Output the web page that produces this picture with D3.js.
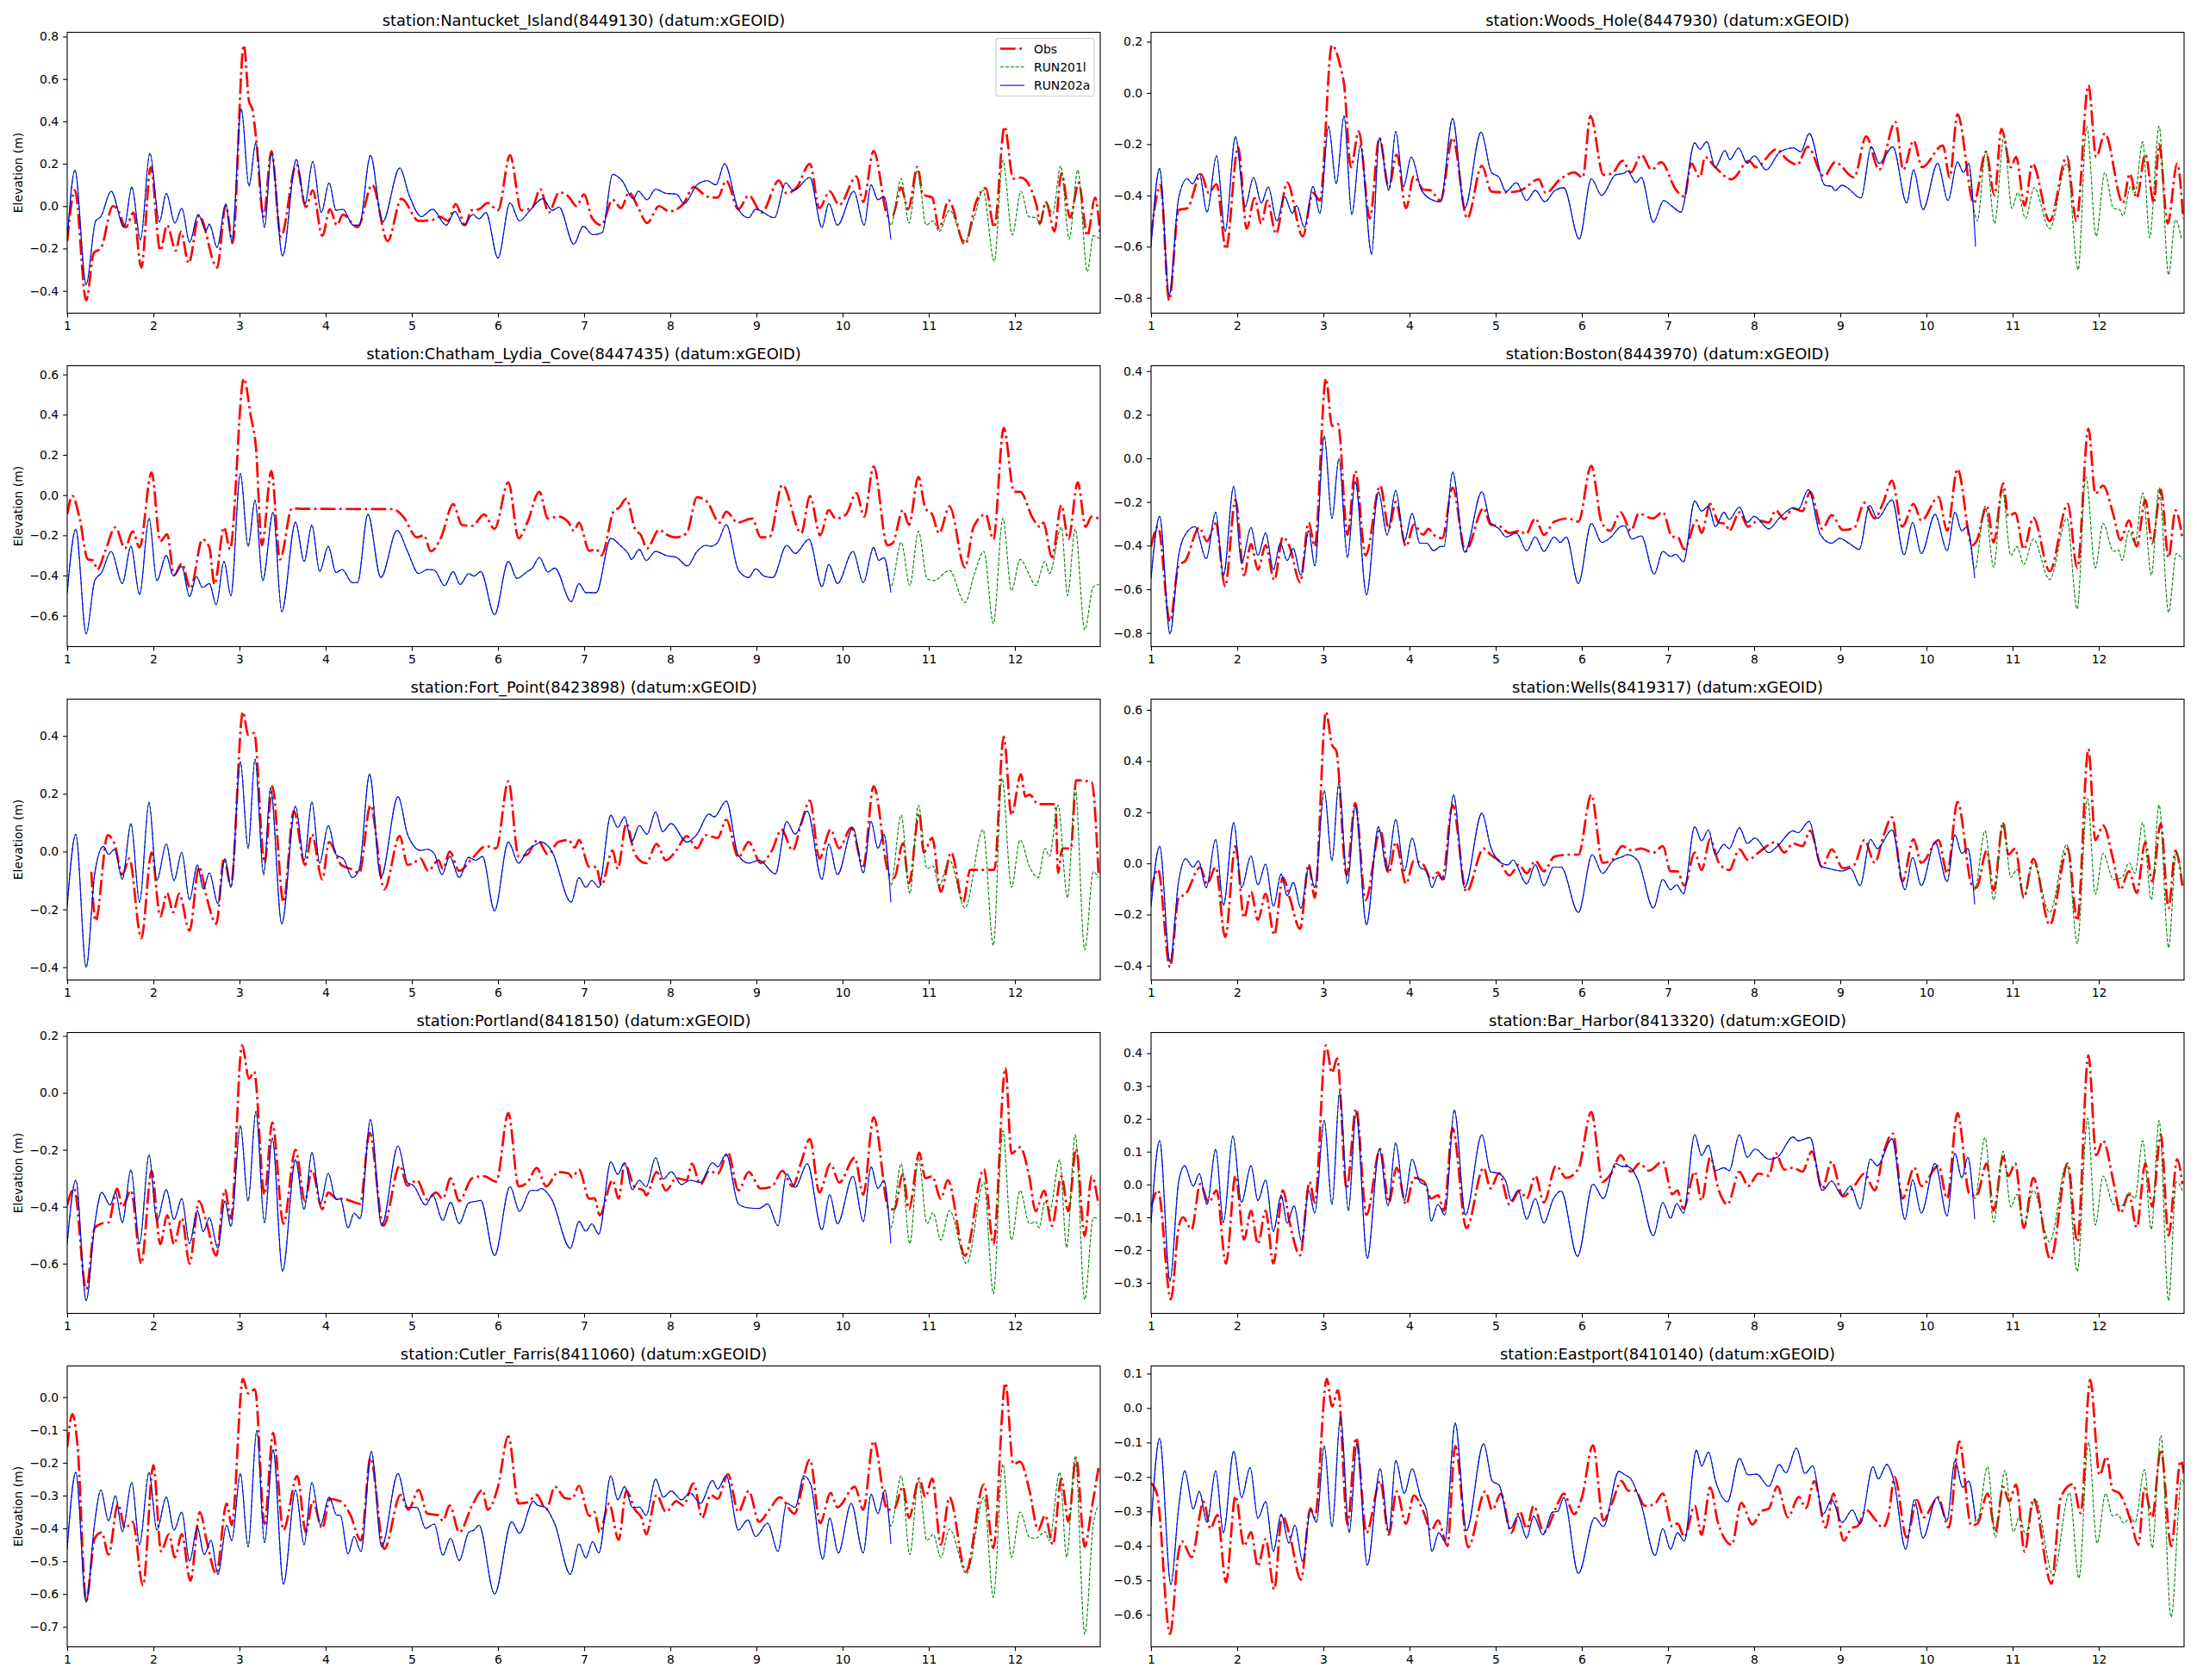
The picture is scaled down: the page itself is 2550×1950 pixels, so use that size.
<!DOCTYPE html>
<html>
<head>
<meta charset="utf-8">
<script src="https://cdn.jsdelivr.net/npm/d3@7"></script>
<style>
  body { margin: 0; background: #fff; }
  text { font-family: "DejaVu Sans", sans-serif; }
</style>
</head>
<body>
<svg id="chart" width="2550" height="1950"></svg>
<script>
// ---- labels ----
var stations = [
  "station:Nantucket_Island(8449130) (datum:xGEOID)",
  "station:Woods_Hole(8447930) (datum:xGEOID)",
  "station:Chatham_Lydia_Cove(8447435) (datum:xGEOID)",
  "station:Boston(8443970) (datum:xGEOID)",
  "station:Fort_Point(8423898) (datum:xGEOID)",
  "station:Wells(8419317) (datum:xGEOID)",
  "station:Portland(8418150) (datum:xGEOID)",
  "station:Bar_Harbor(8413320) (datum:xGEOID)",
  "station:Cutler_Farris(8411060) (datum:xGEOID)",
  "station:Eastport(8410140) (datum:xGEOID)"
];
var seriesNames = ["Obs", "RUN201l", "RUN202a"];
var xTicks = [1, 2, 3, 4, 5, 6, 7, 8, 9, 10, 11, 12];
var yTickSteps = [0.2, 0.2, 0.2, 0.2, 0.2, 0.2, 0.2, 0.1, 0.1, 0.1];

// ---- data: [day, elevation m] at turning points ----
var obs_nantucket = [[1.00,-0.165],[1.09,0.075],[1.22,-0.445],[1.31,-0.22],[1.39,-0.20],[1.53,0.0],[1.58,-0.01],[1.68,-0.10],[1.77,-0.03],[1.86,-0.29],[1.97,0.185],[2.08,-0.21],[2.16,-0.09],[2.26,-0.21],[2.32,-0.12],[2.41,-0.27],[2.53,-0.045],[2.74,-0.29],[2.84,0.005],[2.92,-0.175],[3.05,0.76],[3.11,0.495],[3.15,0.455],[3.19,0.33],[3.28,-0.05],[3.37,0.26],[3.48,-0.145],[3.66,0.195],[3.77,-0.005],[3.85,0.075],[3.96,-0.14],[4.05,-0.015],[4.13,-0.09],[4.20,-0.04],[4.37,-0.10],[4.54,0.10],[4.72,-0.165],[4.88,0.035],[5.08,-0.07],[5.24,-0.065],[5.33,-0.05],[5.42,-0.07],[5.51,0.01],[5.62,-0.09],[5.69,-0.02],[5.78,-0.015],[5.88,0.015],[6.00,-0.02],[6.14,0.24],[6.27,-0.02],[6.40,-0.005],[6.49,0.08],[6.59,-0.03],[6.71,0.065],[6.82,0.045],[6.91,0.0],[7.00,0.055],[7.09,-0.055],[7.20,-0.09],[7.33,0.03],[7.43,-0.01],[7.52,0.065],[7.63,-0.01],[7.73,-0.08],[7.87,0.0],[7.99,-0.025],[8.15,0.01],[8.27,0.09],[8.43,0.045],[8.55,0.04],[8.65,0.12],[8.79,-0.015],[8.91,0.05],[9.06,-0.03],[9.26,0.12],[9.35,0.06],[9.47,0.09],[9.62,0.20],[9.73,-0.01],[9.85,0.07],[9.96,0.005],[10.16,0.14],[10.24,0.02],[10.36,0.26],[10.53,-0.047],[10.58,-0.045],[10.68,0.088],[10.76,-0.015],[10.87,0.185],[10.93,0.055],[11.04,0.04],[11.12,-0.105],[11.23,0.027],[11.42,-0.18],[11.55,0.02],[11.66,0.085],[11.76,-0.10],[11.88,0.375],[11.98,0.13],[12.07,0.135],[12.25,0.005],[12.29,-0.08],[12.36,0.02],[12.46,-0.12],[12.54,0.155],[12.64,-0.055],[12.74,0.11],[12.84,-0.14],[12.93,0.04],[12.99,-0.14]];
var run202a_nantucket = [[1.00,-0.16],[1.09,0.17],[1.22,-0.37],[1.33,-0.07],[1.39,-0.05],[1.51,0.07],[1.66,-0.10],[1.75,0.09],[1.85,-0.16],[1.96,0.25],[2.07,-0.075],[2.15,0.06],[2.25,-0.08],[2.33,-0.01],[2.42,-0.17],[2.52,-0.04],[2.61,-0.115],[2.65,-0.085],[2.74,-0.195],[2.84,0.01],[2.91,-0.165],[3.02,0.46],[3.11,0.095],[3.19,0.30],[3.29,-0.10],[3.37,0.25],[3.50,-0.235],[3.66,0.22],[3.76,0.01],[3.85,0.21],[3.95,-0.03],[4.04,0.11],[4.12,-0.02],[4.20,-0.015],[4.32,-0.09],[4.39,-0.09],[4.52,0.24],[4.66,-0.075],[4.86,0.18],[4.97,0.05],[5.11,-0.05],[5.24,-0.015],[5.40,-0.09],[5.50,-0.025],[5.60,-0.09],[5.71,-0.04],[5.78,-0.06],[5.86,-0.03],[6.00,-0.245],[6.14,0.015],[6.25,-0.07],[6.36,-0.025],[6.52,0.035],[6.63,-0.02],[6.71,-0.005],[6.88,-0.18],[6.99,-0.095],[7.10,-0.135],[7.21,-0.125],[7.33,0.15],[7.44,0.12],[7.57,0.035],[7.63,0.07],[7.73,0.03],[7.83,0.08],[7.95,0.06],[8.07,0.057],[8.16,0.012],[8.31,0.10],[8.43,0.12],[8.53,0.10],[8.63,0.20],[8.79,-0.015],[8.91,-0.055],[8.99,-0.015],[9.21,-0.055],[9.34,0.11],[9.43,0.073],[9.62,0.135],[9.76,-0.10],[9.84,0.012],[9.94,-0.09],[10.13,0.07],[10.25,-0.09],[10.33,0.10],[10.41,0.03],[10.48,0.045],[10.56,-0.157]];
var run201l_tail_nantucket = [[10.56,-0.09],[10.68,0.13],[10.77,-0.08],[10.87,0.17],[10.97,-0.09],[11.05,-0.07],[11.12,-0.12],[11.24,-0.02],[11.42,-0.165],[11.53,-0.05],[11.63,0.075],[11.76,-0.26],[11.86,0.215],[11.97,-0.135],[12.07,0.07],[12.16,-0.05],[12.25,-0.055],[12.29,-0.09],[12.36,0.02],[12.44,-0.035],[12.53,0.19],[12.63,-0.155],[12.73,0.17],[12.84,-0.31],[12.91,-0.14],[12.99,-0.155]];

var obs_woodshole = [[1.00,-0.557],[1.11,-0.36],[1.21,-0.81],[1.32,-0.457],[1.42,-0.45],[1.58,-0.317],[1.67,-0.39],[1.76,-0.356],[1.87,-0.61],[2.01,-0.21],[2.11,-0.53],[2.20,-0.41],[2.28,-0.51],[2.35,-0.42],[2.45,-0.55],[2.58,-0.35],[2.76,-0.56],[2.88,-0.39],[2.96,-0.42],[3.10,0.187],[3.20,0.10],[3.24,0.035],[3.32,-0.29],[3.41,-0.15],[3.54,-0.49],[3.65,-0.175],[3.76,-0.37],[3.85,-0.24],[3.96,-0.45],[4.05,-0.325],[4.16,-0.377],[4.24,-0.38],[4.36,-0.42],[4.50,-0.175],[4.67,-0.49],[4.84,-0.284],[4.95,-0.385],[5.12,-0.388],[5.28,-0.382],[5.50,-0.337],[5.58,-0.39],[5.75,-0.337],[5.91,-0.31],[6.01,-0.33],[6.10,-0.09],[6.25,-0.32],[6.35,-0.315],[6.47,-0.265],[6.57,-0.31],[6.69,-0.242],[6.81,-0.30],[6.92,-0.27],[7.09,-0.377],[7.19,-0.405],[7.27,-0.275],[7.37,-0.33],[7.43,-0.25],[7.54,-0.287],[7.74,-0.337],[7.94,-0.265],[8.02,-0.29],[8.26,-0.22],[8.38,-0.26],[8.50,-0.28],[8.62,-0.21],[8.81,-0.325],[8.94,-0.27],[9.16,-0.33],[9.30,-0.17],[9.45,-0.30],[9.64,-0.113],[9.73,-0.30],[9.85,-0.186],[9.95,-0.29],[10.19,-0.205],[10.27,-0.33],[10.36,-0.083],[10.55,-0.43],[10.69,-0.23],[10.79,-0.40],[10.87,-0.14],[10.98,-0.29],[11.04,-0.25],[11.14,-0.44],[11.23,-0.276],[11.43,-0.50],[11.63,-0.248],[11.74,-0.50],[11.88,0.03],[11.97,-0.25],[12.07,-0.158],[12.28,-0.43],[12.36,-0.315],[12.44,-0.41],[12.54,-0.24],[12.64,-0.43],[12.70,-0.20],[12.80,-0.51],[12.91,-0.276],[12.98,-0.49]];
var run202a_woodshole = [[1.00,-0.60],[1.10,-0.295],[1.21,-0.79],[1.32,-0.41],[1.42,-0.335],[1.48,-0.355],[1.56,-0.315],[1.65,-0.465],[1.76,-0.245],[1.86,-0.54],[1.98,-0.17],[2.09,-0.445],[2.19,-0.33],[2.28,-0.43],[2.36,-0.367],[2.46,-0.50],[2.55,-0.405],[2.64,-0.47],[2.69,-0.44],[2.78,-0.525],[2.88,-0.365],[2.96,-0.47],[3.06,-0.13],[3.15,-0.355],[3.24,-0.09],[3.33,-0.475],[3.43,-0.205],[3.56,-0.63],[3.65,-0.175],[3.76,-0.38],[3.84,-0.15],[3.93,-0.365],[4.02,-0.25],[4.14,-0.38],[4.28,-0.42],[4.36,-0.425],[4.50,-0.10],[4.64,-0.45],[4.83,-0.153],[4.95,-0.31],[5.04,-0.33],[5.12,-0.385],[5.24,-0.35],[5.36,-0.42],[5.46,-0.38],[5.57,-0.425],[5.69,-0.38],[5.79,-0.37],[5.97,-0.57],[6.11,-0.335],[6.23,-0.40],[6.39,-0.32],[6.49,-0.313],[6.53,-0.305],[6.63,-0.35],[6.69,-0.33],[6.83,-0.505],[6.95,-0.42],[7.04,-0.44],[7.15,-0.465],[7.31,-0.195],[7.37,-0.22],[7.45,-0.19],[7.55,-0.29],[7.66,-0.225],[7.72,-0.26],[7.82,-0.215],[7.92,-0.275],[8.00,-0.245],[8.14,-0.30],[8.30,-0.23],[8.46,-0.215],[8.54,-0.23],[8.64,-0.158],[8.82,-0.36],[8.90,-0.365],[8.94,-0.382],[9.02,-0.36],[9.08,-0.37],[9.24,-0.41],[9.36,-0.21],[9.45,-0.275],[9.61,-0.21],[9.77,-0.43],[9.85,-0.30],[9.96,-0.455],[10.13,-0.275],[10.25,-0.42],[10.36,-0.27],[10.43,-0.31],[10.49,-0.275],[10.57,-0.60]];
var run201l_tail_woodshole = [[10.53,-0.40],[10.59,-0.50],[10.69,-0.225],[10.79,-0.51],[10.90,-0.17],[10.99,-0.45],[11.06,-0.39],[11.15,-0.49],[11.25,-0.37],[11.43,-0.53],[11.63,-0.275],[11.76,-0.69],[11.86,-0.13],[11.97,-0.56],[12.07,-0.31],[12.17,-0.45],[12.24,-0.455],[12.28,-0.48],[12.37,-0.365],[12.42,-0.39],[12.51,-0.19],[12.59,-0.565],[12.70,-0.13],[12.81,-0.71],[12.89,-0.495],[12.96,-0.57]];

var obs_chatham = [[1.00,-0.096],[1.06,-0.004],[1.14,-0.107],[1.24,-0.32],[1.30,-0.325],[1.35,-0.37],[1.44,-0.28],[1.56,-0.16],[1.67,-0.265],[1.76,-0.18],[1.84,-0.26],[1.98,0.113],[2.08,-0.23],[2.16,-0.195],[2.24,-0.40],[2.33,-0.34],[2.43,-0.465],[2.57,-0.22],[2.65,-0.26],[2.71,-0.445],[2.82,-0.16],[2.89,-0.27],[3.05,0.58],[3.13,0.395],[3.19,0.24],[3.26,-0.25],[3.37,0.12],[3.47,-0.32],[3.61,-0.065],[3.70,-0.068],[4.78,-0.07],[4.90,-0.107],[5.06,-0.21],[5.14,-0.20],[5.22,-0.28],[5.34,-0.21],[5.48,-0.045],[5.58,-0.148],[5.70,-0.153],[5.84,-0.096],[5.96,-0.168],[6.12,0.063],[6.24,-0.215],[6.34,-0.137],[6.48,0.016],[6.58,-0.117],[6.70,-0.107],[6.82,-0.137],[6.88,-0.178],[6.94,-0.137],[7.06,-0.277],[7.14,-0.27],[7.20,-0.30],[7.35,-0.075],[7.40,-0.065],[7.49,-0.018],[7.59,-0.168],[7.66,-0.20],[7.73,-0.265],[7.87,-0.172],[7.95,-0.195],[8.07,-0.21],[8.19,-0.19],[8.31,-0.01],[8.43,-0.035],[8.57,-0.137],[8.65,-0.082],[8.78,-0.137],[8.95,-0.117],[9.05,-0.21],[9.15,-0.21],[9.30,0.051],[9.52,-0.19],[9.62,-0.004],[9.74,-0.20],[9.84,-0.075],[9.92,-0.117],[10.04,-0.096],[10.16,0.01],[10.25,-0.107],[10.36,0.143],[10.52,-0.25],[10.58,-0.24],[10.70,-0.075],[10.77,-0.148],[10.88,0.09],[10.96,-0.065],[11.04,-0.096],[11.12,-0.19],[11.24,-0.055],[11.42,-0.36],[11.52,-0.158],[11.66,-0.096],[11.75,-0.22],[11.87,0.334],[11.99,0.016],[12.06,0.016],[12.21,-0.117],[12.29,-0.158],[12.33,-0.137],[12.43,-0.31],[12.54,-0.05],[12.62,-0.22],[12.73,0.063],[12.82,-0.158],[12.89,-0.107],[12.97,-0.117]];
var run202a_chatham = [[1.00,-0.485],[1.10,-0.17],[1.22,-0.69],[1.32,-0.425],[1.40,-0.385],[1.51,-0.28],[1.64,-0.44],[1.74,-0.255],[1.84,-0.495],[1.95,-0.115],[2.04,-0.425],[2.15,-0.30],[2.23,-0.40],[2.33,-0.355],[2.42,-0.505],[2.50,-0.405],[2.57,-0.46],[2.65,-0.44],[2.73,-0.545],[2.82,-0.33],[2.90,-0.50],[3.01,0.108],[3.10,-0.255],[3.18,-0.025],[3.27,-0.425],[3.39,-0.085],[3.49,-0.58],[3.65,-0.135],[3.75,-0.33],[3.84,-0.15],[3.93,-0.38],[4.03,-0.255],[4.12,-0.385],[4.19,-0.37],[4.31,-0.435],[4.37,-0.435],[4.49,-0.095],[4.64,-0.41],[4.83,-0.175],[4.95,-0.28],[5.08,-0.39],[5.18,-0.37],[5.26,-0.373],[5.38,-0.45],[5.48,-0.38],[5.56,-0.445],[5.66,-0.39],[5.72,-0.403],[5.80,-0.38],[5.96,-0.595],[6.12,-0.33],[6.22,-0.414],[6.34,-0.38],[6.40,-0.363],[6.48,-0.31],[6.58,-0.383],[6.66,-0.363],[6.85,-0.53],[6.94,-0.44],[7.02,-0.485],[7.14,-0.485],[7.31,-0.215],[7.43,-0.255],[7.51,-0.29],[7.55,-0.32],[7.64,-0.27],[7.72,-0.325],[7.83,-0.28],[7.95,-0.30],[8.07,-0.31],[8.20,-0.352],[8.31,-0.28],[8.41,-0.25],[8.47,-0.255],[8.55,-0.235],[8.65,-0.147],[8.79,-0.373],[8.91,-0.41],[8.99,-0.367],[9.09,-0.403],[9.19,-0.41],[9.35,-0.25],[9.45,-0.29],[9.61,-0.22],[9.76,-0.455],[9.84,-0.345],[9.94,-0.44],[10.12,-0.28],[10.24,-0.435],[10.36,-0.26],[10.42,-0.325],[10.48,-0.31],[10.56,-0.485]];
var run201l_tail_chatham = [[10.56,-0.455],[10.68,-0.235],[10.78,-0.45],[10.88,-0.18],[10.98,-0.415],[11.06,-0.425],[11.24,-0.375],[11.42,-0.535],[11.53,-0.39],[11.64,-0.28],[11.75,-0.64],[11.86,-0.115],[11.96,-0.475],[12.06,-0.32],[12.17,-0.40],[12.24,-0.45],[12.35,-0.33],[12.40,-0.39],[12.54,-0.158],[12.61,-0.50],[12.70,-0.168],[12.81,-0.67],[12.91,-0.455],[12.98,-0.445]];

var obs_boston = [[1.00,-0.404],[1.08,-0.313],[1.22,-0.747],[1.32,-0.492],[1.40,-0.468],[1.56,-0.317],[1.65,-0.38],[1.75,-0.298],[1.86,-0.587],[1.98,-0.19],[2.08,-0.536],[2.16,-0.392],[2.24,-0.51],[2.33,-0.398],[2.43,-0.558],[2.53,-0.36],[2.61,-0.407],[2.73,-0.568],[2.83,-0.294],[2.90,-0.404],[3.03,0.366],[3.10,0.149],[3.17,0.158],[3.28,-0.351],[3.37,-0.058],[3.49,-0.445],[3.66,-0.125],[3.76,-0.323],[3.84,-0.20],[3.96,-0.404],[4.05,-0.304],[4.16,-0.35],[4.22,-0.323],[4.28,-0.35],[4.38,-0.366],[4.50,-0.134],[4.65,-0.426],[4.86,-0.228],[4.94,-0.304],[5.04,-0.31],[5.16,-0.342],[5.28,-0.332],[5.35,-0.347],[5.46,-0.275],[5.56,-0.351],[5.68,-0.29],[5.84,-0.275],[5.96,-0.29],[6.11,-0.034],[6.23,-0.294],[6.33,-0.332],[6.45,-0.247],[6.57,-0.332],[6.66,-0.253],[6.82,-0.275],[6.94,-0.247],[7.05,-0.36],[7.11,-0.36],[7.19,-0.417],[7.33,-0.285],[7.39,-0.342],[7.49,-0.209],[7.59,-0.294],[7.67,-0.30],[7.71,-0.332],[7.83,-0.247],[7.93,-0.313],[8.05,-0.285],[8.17,-0.294],[8.25,-0.238],[8.35,-0.279],[8.45,-0.228],[8.56,-0.242],[8.65,-0.153],[8.79,-0.323],[8.90,-0.26],[9.03,-0.328],[9.16,-0.32],[9.28,-0.204],[9.40,-0.275],[9.50,-0.20],[9.60,-0.102],[9.72,-0.313],[9.85,-0.209],[9.94,-0.285],[10.14,-0.177],[10.24,-0.332],[10.36,-0.049],[10.53,-0.398],[10.58,-0.38],[10.70,-0.219],[10.78,-0.385],[10.89,-0.115],[10.95,-0.266],[11.03,-0.25],[11.13,-0.417],[11.24,-0.272],[11.43,-0.517],[11.64,-0.209],[11.75,-0.502],[11.88,0.136],[11.96,-0.162],[12.05,-0.125],[12.17,-0.26],[12.25,-0.374],[12.35,-0.285],[12.44,-0.404],[12.54,-0.19],[12.62,-0.389],[12.72,-0.143],[12.81,-0.455],[12.89,-0.238],[12.97,-0.366]];
var run202a_boston = [[1.00,-0.55],[1.10,-0.266],[1.22,-0.804],[1.32,-0.445],[1.41,-0.342],[1.51,-0.313],[1.64,-0.46],[1.75,-0.247],[1.84,-0.536],[1.96,-0.128],[2.05,-0.48],[2.16,-0.317],[2.24,-0.445],[2.33,-0.342],[2.42,-0.51],[2.50,-0.389],[2.58,-0.468],[2.65,-0.413],[2.74,-0.536],[2.83,-0.332],[2.90,-0.492],[3.01,0.102],[3.10,-0.275],[3.18,-0.002],[3.28,-0.455],[3.37,-0.106],[3.50,-0.625],[3.64,-0.153],[3.74,-0.351],[3.84,-0.147],[3.94,-0.38],[4.03,-0.253],[4.12,-0.389],[4.20,-0.389],[4.28,-0.423],[4.36,-0.404],[4.40,-0.404],[4.50,-0.062],[4.64,-0.43],[4.84,-0.153],[4.94,-0.294],[5.04,-0.323],[5.12,-0.36],[5.24,-0.342],[5.36,-0.423],[5.46,-0.36],[5.56,-0.426],[5.68,-0.36],[5.75,-0.385],[5.82,-0.36],[5.96,-0.574],[6.11,-0.298],[6.23,-0.385],[6.34,-0.36],[6.45,-0.313],[6.50,-0.309],[6.58,-0.37],[6.69,-0.355],[6.84,-0.53],[6.94,-0.426],[7.03,-0.45],[7.09,-0.44],[7.18,-0.474],[7.31,-0.196],[7.39,-0.242],[7.47,-0.219],[7.55,-0.313],[7.65,-0.247],[7.71,-0.28],[7.83,-0.223],[7.92,-0.294],[8.00,-0.266],[8.17,-0.323],[8.29,-0.275],[8.45,-0.228],[8.51,-0.235],[8.63,-0.143],[8.77,-0.351],[8.90,-0.389],[8.99,-0.366],[9.10,-0.389],[9.22,-0.417],[9.34,-0.215],[9.43,-0.275],[9.60,-0.19],[9.74,-0.442],[9.84,-0.294],[9.94,-0.436],[10.10,-0.257],[10.24,-0.423],[10.33,-0.247],[10.41,-0.332],[10.47,-0.313],[10.56,-0.549]];
var run201l_tail_boston = [[10.56,-0.51],[10.68,-0.219],[10.78,-0.498],[10.88,-0.143],[10.98,-0.445],[11.05,-0.404],[11.13,-0.487],[11.24,-0.37],[11.43,-0.555],[11.63,-0.275],[11.75,-0.69],[11.85,-0.083],[11.96,-0.502],[12.05,-0.298],[12.17,-0.426],[12.23,-0.42],[12.27,-0.468],[12.35,-0.332],[12.42,-0.389],[12.51,-0.158],[12.61,-0.536],[12.70,-0.134],[12.81,-0.706],[12.90,-0.436],[12.97,-0.464]];

var obs_fortpoint = [[1.28,-0.07],[1.33,-0.24],[1.47,0.057],[1.55,0.026],[1.64,-0.08],[1.72,-0.024],[1.86,-0.30],[1.98,-0.003],[2.08,-0.224],[2.16,-0.143],[2.23,-0.21],[2.30,-0.146],[2.42,-0.274],[2.53,-0.053],[2.62,-0.16],[2.73,-0.25],[2.82,-0.024],[2.90,-0.117],[3.04,0.483],[3.10,0.404],[3.17,0.41],[3.29,-0.04],[3.38,0.226],[3.51,-0.175],[3.63,0.14],[3.76,-0.046],[3.84,0.06],[3.96,-0.096],[4.04,0.033],[4.18,-0.046],[4.29,-0.06],[4.39,-0.074],[4.52,0.16],[4.68,-0.13],[4.86,0.054],[4.95,-0.046],[5.02,-0.04],[5.10,-0.024],[5.19,-0.067],[5.31,-0.03],[5.36,-0.06],[5.44,0.0],[5.55,-0.067],[5.70,-0.024],[5.86,0.019],[5.98,0.011],[6.12,0.243],[6.24,-0.017],[6.34,-0.01],[6.46,0.04],[6.58,-0.01],[6.70,0.033],[6.82,0.04],[6.89,0.014],[6.94,0.04],[7.06,-0.053],[7.14,-0.053],[7.20,-0.117],[7.33,0.004],[7.39,-0.06],[7.49,0.097],[7.59,-0.01],[7.72,-0.04],[7.84,0.026],[7.95,-0.03],[8.07,0.004],[8.19,0.054],[8.31,0.011],[8.41,0.057],[8.55,0.047],[8.65,0.11],[8.79,-0.02],[8.91,0.033],[9.05,-0.04],[9.18,0.004],[9.29,0.076],[9.42,0.004],[9.52,0.097],[9.62,0.176],[9.73,-0.024],[9.86,0.076],[9.96,0.011],[10.10,0.083],[10.24,-0.05],[10.36,0.226],[10.54,-0.08],[10.60,-0.09],[10.70,0.029],[10.77,-0.11],[10.89,0.133],[10.94,-0.003],[11.04,0.047],[11.14,-0.139],[11.26,-0.003],[11.40,-0.175],[11.48,-0.063],[11.76,-0.063],[11.87,0.397],[11.96,0.126],[12.07,0.268],[12.12,0.19],[12.17,0.197],[12.27,0.164],[12.47,0.164],[12.50,-0.074],[12.55,0.011],[12.65,0.011],[12.71,0.247],[12.89,0.24],[12.97,-0.074]];
var run202a_fortpoint = [[1.00,-0.19],[1.10,0.06],[1.22,-0.40],[1.32,-0.075],[1.42,0.018],[1.48,-0.01],[1.55,0.008],[1.64,-0.096],[1.74,0.097],[1.84,-0.175],[1.95,0.17],[2.04,-0.10],[2.15,0.026],[2.24,-0.10],[2.33,-0.003],[2.42,-0.167],[2.51,-0.046],[2.58,-0.13],[2.65,-0.074],[2.75,-0.18],[2.83,-0.024],[2.90,-0.124],[3.01,0.31],[3.10,0.011],[3.18,0.32],[3.28,-0.08],[3.36,0.22],[3.49,-0.25],[3.65,0.157],[3.75,-0.03],[3.84,0.172],[3.93,-0.04],[4.03,0.09],[4.12,-0.01],[4.21,-0.027],[4.31,-0.09],[4.39,-0.06],[4.51,0.268],[4.64,-0.09],[4.84,0.19],[4.95,0.06],[5.10,0.004],[5.18,0.008],[5.26,-0.007],[5.35,-0.08],[5.44,-0.017],[5.55,-0.09],[5.66,-0.02],[5.74,-0.03],[5.82,-0.017],[5.96,-0.205],[6.12,0.033],[6.24,-0.04],[6.34,0.004],[6.45,0.026],[6.50,0.033],[6.62,0.004],[6.85,-0.175],[6.94,-0.09],[7.02,-0.124],[7.09,-0.10],[7.17,-0.124],[7.31,0.126],[7.39,0.083],[7.47,0.12],[7.55,0.033],[7.64,0.09],[7.73,0.06],[7.83,0.137],[7.91,0.069],[8.01,0.097],[8.19,0.033],[8.31,0.06],[8.45,0.13],[8.51,0.12],[8.65,0.175],[8.79,-0.014],[8.91,-0.04],[9.03,-0.03],[9.22,-0.077],[9.35,0.104],[9.45,0.06],[9.59,0.14],[9.76,-0.096],[9.84,0.026],[9.94,-0.08],[10.12,0.083],[10.24,-0.074],[10.33,0.104],[10.41,0.011],[10.48,0.06],[10.56,-0.175]];
var run201l_tail_fortpoint = [[10.56,-0.117],[10.68,0.126],[10.78,-0.146],[10.88,0.16],[10.98,-0.06],[11.05,-0.05],[11.12,-0.117],[11.24,-0.03],[11.42,-0.195],[11.63,0.076],[11.75,-0.325],[11.85,0.254],[11.96,-0.124],[12.06,0.04],[12.17,-0.053],[12.27,-0.09],[12.35,0.011],[12.40,-0.017],[12.50,0.16],[12.61,-0.16],[12.70,0.218],[12.81,-0.34],[12.91,-0.07],[12.97,-0.09]];

var obs_wells = [[1.00,-0.111],[1.08,-0.023],[1.22,-0.406],[1.32,-0.135],[1.40,-0.12],[1.57,-0.015],[1.65,-0.08],[1.75,-0.015],[1.86,-0.288],[1.98,0.067],[2.08,-0.213],[2.16,-0.111],[2.24,-0.221],[2.33,-0.119],[2.43,-0.28],[2.53,-0.055],[2.61,-0.135],[2.73,-0.256],[2.83,-0.003],[2.90,-0.135],[3.03,0.592],[3.10,0.463],[3.15,0.44],[3.27,-0.047],[3.37,0.236],[3.49,-0.143],[3.66,0.131],[3.76,-0.039],[3.84,0.083],[3.96,-0.08],[4.05,0.01],[4.16,-0.005],[4.25,-0.063],[4.33,-0.035],[4.38,-0.063],[4.50,0.228],[4.66,-0.111],[4.86,0.058],[4.94,0.034],[5.04,0.01],[5.16,-0.047],[5.27,-0.005],[5.36,-0.039],[5.46,0.01],[5.56,-0.031],[5.68,0.026],[5.84,0.034],[5.96,0.034],[6.11,0.268],[6.24,0.002],[6.35,0.013],[6.47,0.067],[6.58,0.05],[6.69,0.058],[6.83,0.042],[6.94,0.067],[7.03,-0.031],[7.11,-0.031],[7.19,-0.087],[7.31,0.042],[7.39,-0.026],[7.49,0.094],[7.59,0.002],[7.71,-0.026],[7.83,0.055],[7.93,0.013],[8.05,0.042],[8.25,0.083],[8.35,0.042],[8.45,0.078],[8.56,0.067],[8.65,0.127],[8.79,-0.015],[8.90,0.055],[9.03,-0.019],[9.16,-0.006],[9.28,0.091],[9.40,0.002],[9.50,0.107],[9.60,0.18],[9.72,-0.071],[9.85,0.094],[9.94,0.002],[10.14,0.091],[10.24,-0.039],[10.36,0.24],[10.53,-0.087],[10.58,-0.095],[10.70,0.05],[10.78,-0.106],[10.89,0.159],[10.95,0.034],[11.03,0.058],[11.13,-0.135],[11.24,0.018],[11.43,-0.24],[11.64,0.058],[11.75,-0.224],[11.88,0.447],[11.96,0.091],[12.05,0.148],[12.17,0.01],[12.25,-0.103],[12.35,-0.03],[12.44,-0.116],[12.54,0.083],[12.62,-0.071],[12.72,0.156],[12.81,-0.175],[12.89,0.05],[12.97,-0.087]];
var run202a_wells = [[1.00,-0.168],[1.10,0.067],[1.22,-0.385],[1.32,-0.07],[1.40,0.018],[1.49,-0.015],[1.55,0.01],[1.64,-0.095],[1.75,0.094],[1.84,-0.164],[1.96,0.159],[2.05,-0.095],[2.16,0.029],[2.24,-0.084],[2.33,-0.003],[2.42,-0.168],[2.51,-0.042],[2.58,-0.127],[2.65,-0.074],[2.74,-0.175],[2.83,-0.015],[2.90,-0.095],[3.01,0.285],[3.10,0.01],[3.18,0.317],[3.28,-0.08],[3.37,0.228],[3.50,-0.24],[3.64,0.143],[3.74,-0.03],[3.84,0.172],[3.94,-0.03],[4.03,0.099],[4.12,-0.015],[4.20,-0.03],[4.26,-0.095],[4.33,-0.047],[4.40,-0.063],[4.51,0.268],[4.64,-0.095],[4.84,0.196],[4.94,0.067],[5.06,0.002],[5.14,-0.006],[5.20,0.013],[5.36,-0.08],[5.46,-0.005],[5.56,-0.087],[5.67,-0.015],[5.76,-0.015],[5.96,-0.192],[6.12,0.034],[6.24,-0.039],[6.36,0.01],[6.47,0.026],[6.53,0.034],[6.65,0.01],[6.83,-0.175],[6.94,-0.063],[7.03,-0.103],[7.10,-0.084],[7.18,-0.119],[7.31,0.143],[7.39,0.088],[7.47,0.131],[7.55,0.034],[7.65,0.074],[7.71,0.058],[7.83,0.139],[7.92,0.078],[8.01,0.099],[8.17,0.042],[8.27,0.067],[8.45,0.127],[8.51,0.12],[8.64,0.164],[8.77,-0.009],[8.90,-0.023],[9.02,-0.03],[9.12,-0.02],[9.23,-0.087],[9.35,0.094],[9.43,0.058],[9.60,0.131],[9.75,-0.103],[9.84,0.023],[9.94,-0.087],[10.10,0.083],[10.24,-0.071],[10.33,0.111],[10.41,0.039],[10.48,0.058],[10.56,-0.16]];
var run201l_tail_wells = [[10.56,-0.103],[10.68,0.127],[10.78,-0.143],[10.89,0.159],[10.98,-0.055],[11.05,-0.023],[11.13,-0.127],[11.24,0.002],[11.43,-0.192],[11.63,0.074],[11.75,-0.313],[11.87,0.253],[11.96,-0.122],[12.05,0.039],[12.17,-0.063],[12.27,-0.055],[12.35,0.002],[12.42,-0.039],[12.51,0.159],[12.61,-0.143],[12.70,0.228],[12.81,-0.329],[12.90,0.042],[12.97,-0.08]];

var obs_portland = [[1.00,-0.394],[1.08,-0.336],[1.22,-0.69],[1.32,-0.474],[1.39,-0.46],[1.48,-0.455],[1.58,-0.336],[1.64,-0.40],[1.74,-0.343],[1.86,-0.60],[1.98,-0.274],[2.08,-0.532],[2.16,-0.43],[2.24,-0.532],[2.33,-0.44],[2.42,-0.60],[2.53,-0.38],[2.62,-0.46],[2.73,-0.572],[2.83,-0.34],[2.90,-0.442],[3.03,0.167],[3.11,0.05],[3.17,0.074],[3.29,-0.358],[3.38,-0.104],[3.51,-0.46],[3.65,-0.20],[3.76,-0.38],[3.84,-0.271],[3.96,-0.409],[4.03,-0.35],[4.12,-0.37],[4.21,-0.372],[4.29,-0.38],[4.40,-0.39],[4.51,-0.14],[4.67,-0.467],[4.86,-0.256],[4.95,-0.326],[5.06,-0.307],[5.18,-0.375],[5.28,-0.35],[5.36,-0.372],[5.45,-0.30],[5.55,-0.38],[5.70,-0.30],[5.84,-0.293],[5.98,-0.312],[6.12,-0.071],[6.24,-0.329],[6.34,-0.315],[6.45,-0.264],[6.56,-0.329],[6.70,-0.278],[6.82,-0.283],[6.86,-0.297],[6.94,-0.27],[7.06,-0.372],[7.12,-0.37],[7.18,-0.43],[7.33,-0.307],[7.40,-0.372],[7.47,-0.25],[7.59,-0.332],[7.69,-0.343],[7.72,-0.36],[7.84,-0.278],[7.95,-0.343],[8.07,-0.30],[8.19,-0.307],[8.25,-0.249],[8.35,-0.322],[8.45,-0.274],[8.55,-0.285],[8.67,-0.21],[8.79,-0.343],[8.91,-0.278],[9.05,-0.336],[9.18,-0.329],[9.30,-0.274],[9.42,-0.329],[9.52,-0.242],[9.62,-0.162],[9.73,-0.35],[9.86,-0.249],[9.96,-0.315],[10.14,-0.228],[10.24,-0.358],[10.36,-0.086],[10.54,-0.409],[10.60,-0.409],[10.70,-0.285],[10.77,-0.409],[10.89,-0.21],[10.96,-0.30],[11.04,-0.293],[11.14,-0.372],[11.22,-0.307],[11.42,-0.572],[11.64,-0.268],[11.75,-0.532],[11.89,0.088],[11.96,-0.213],[12.06,-0.191],[12.17,-0.30],[12.24,-0.416],[12.34,-0.343],[12.43,-0.467],[12.54,-0.293],[12.62,-0.416],[12.71,-0.196],[12.81,-0.503],[12.89,-0.293],[12.97,-0.394]];
var run202a_portland = [[1.00,-0.53],[1.10,-0.307],[1.22,-0.73],[1.32,-0.46],[1.40,-0.35],[1.50,-0.394],[1.56,-0.35],[1.64,-0.456],[1.74,-0.27],[1.84,-0.53],[1.95,-0.217],[2.04,-0.45],[2.15,-0.34],[2.24,-0.445],[2.33,-0.372],[2.42,-0.53],[2.51,-0.413],[2.58,-0.488],[2.65,-0.438],[2.75,-0.546],[2.83,-0.38],[2.90,-0.47],[3.01,-0.115],[3.10,-0.38],[3.19,-0.065],[3.29,-0.456],[3.38,-0.158],[3.50,-0.626],[3.65,-0.235],[3.75,-0.41],[3.84,-0.21],[3.94,-0.39],[4.03,-0.283],[4.12,-0.375],[4.17,-0.372],[4.26,-0.474],[4.33,-0.423],[4.40,-0.442],[4.52,-0.094],[4.65,-0.467],[4.84,-0.187],[4.95,-0.315],[5.02,-0.326],[5.16,-0.394],[5.24,-0.358],[5.36,-0.448],[5.45,-0.384],[5.55,-0.46],[5.66,-0.387],[5.76,-0.38],[5.80,-0.378],[5.96,-0.572],[6.14,-0.329],[6.25,-0.416],[6.38,-0.343],[6.46,-0.343],[6.50,-0.336],[6.62,-0.372],[6.84,-0.546],[6.94,-0.452],[7.02,-0.486],[7.09,-0.46],[7.17,-0.496],[7.31,-0.242],[7.39,-0.286],[7.47,-0.245],[7.56,-0.34],[7.64,-0.307],[7.72,-0.33],[7.83,-0.228],[7.92,-0.303],[8.01,-0.277],[8.13,-0.322],[8.23,-0.307],[8.35,-0.315],[8.49,-0.245],[8.55,-0.26],[8.65,-0.216],[8.79,-0.39],[8.91,-0.404],[9.03,-0.406],[9.13,-0.39],[9.25,-0.467],[9.35,-0.285],[9.45,-0.332],[9.59,-0.249],[9.76,-0.481],[9.85,-0.358],[9.94,-0.46],[10.12,-0.293],[10.24,-0.452],[10.33,-0.26],[10.41,-0.336],[10.48,-0.307],[10.56,-0.529]];
var run201l_tail_portland = [[10.56,-0.474],[10.68,-0.249],[10.78,-0.53],[10.88,-0.228],[10.98,-0.46],[11.05,-0.42],[11.14,-0.517],[11.24,-0.413],[11.44,-0.60],[11.64,-0.315],[11.75,-0.706],[11.86,-0.133],[11.96,-0.517],[12.06,-0.343],[12.17,-0.46],[12.24,-0.452],[12.28,-0.474],[12.35,-0.38],[12.40,-0.416],[12.52,-0.235],[12.60,-0.543],[12.70,-0.148],[12.81,-0.727],[12.91,-0.438],[12.97,-0.442]];

var obs_barharbor = [[1.00,-0.068],[1.08,-0.018],[1.23,-0.35],[1.32,-0.131],[1.37,-0.10],[1.47,-0.137],[1.57,0.001],[1.67,-0.055],[1.76,-0.018],[1.87,-0.241],[1.98,0.026],[2.08,-0.168],[2.16,-0.08],[2.24,-0.181],[2.33,-0.08],[2.42,-0.241],[2.53,-0.018],[2.61,-0.118],[2.73,-0.216],[2.84,0.008],[2.90,-0.055],[3.03,0.424],[3.10,0.34],[3.16,0.384],[3.27,-0.012],[3.38,0.231],[3.50,-0.093],[3.66,0.108],[3.76,-0.055],[3.85,0.051],[3.96,-0.061],[4.05,0.02],[4.17,0.008],[4.25,-0.043],[4.33,-0.033],[4.40,-0.08],[4.50,0.171],[4.66,-0.133],[4.86,0.051],[4.94,-0.012],[5.04,0.035],[5.16,-0.061],[5.28,-0.018],[5.36,-0.043],[5.46,0.026],[5.56,-0.055],[5.70,0.057],[5.82,0.02],[5.96,0.048],[6.11,0.221],[6.24,0.008],[6.34,0.033],[6.45,0.089],[6.57,0.039],[6.67,0.064],[6.78,0.042],[6.94,0.07],[7.05,-0.03],[7.11,-0.018],[7.18,-0.074],[7.31,0.039],[7.39,-0.049],[7.49,0.083],[7.59,-0.018],[7.69,-0.061],[7.83,0.039],[7.93,-0.005],[8.05,0.033],[8.17,0.027],[8.25,0.095],[8.35,0.045],[8.45,0.051],[8.56,0.039],[8.67,0.101],[8.79,-0.012],[8.90,0.07],[9.03,-0.037],[9.16,-0.005],[9.28,0.033],[9.40,-0.018],[9.50,0.095],[9.61,0.155],[9.72,-0.043],[9.86,0.051],[9.94,-0.005],[10.14,0.057],[10.24,-0.043],[10.36,0.218],[10.50,-0.03],[10.58,-0.035],[10.70,0.064],[10.78,-0.08],[10.89,0.085],[10.95,0.026],[11.03,0.064],[11.13,-0.133],[11.24,0.02],[11.44,-0.229],[11.64,0.064],[11.75,-0.175],[11.88,0.394],[11.97,0.089],[12.05,0.133],[12.17,0.008],[12.25,-0.087],[12.35,-0.03],[12.44,-0.131],[12.54,0.064],[12.62,-0.068],[12.72,0.152],[12.81,-0.156],[12.91,0.077],[12.97,0.001]];
var run202a_barharbor = [[1.00,-0.118],[1.10,0.133],[1.22,-0.294],[1.32,0.008],[1.39,0.057],[1.49,-0.005],[1.56,0.033],[1.65,-0.061],[1.75,0.108],[1.84,-0.116],[1.95,0.148],[2.05,-0.055],[2.16,0.057],[2.24,-0.049],[2.33,0.014],[2.42,-0.143],[2.51,-0.033],[2.58,-0.118],[2.66,-0.065],[2.75,-0.175],[2.83,-0.018],[2.90,-0.087],[3.01,0.195],[3.10,-0.061],[3.19,0.283],[3.29,-0.08],[3.38,0.218],[3.51,-0.225],[3.65,0.108],[3.75,-0.065],[3.84,0.127],[3.94,-0.049],[4.03,0.077],[4.12,0.008],[4.20,-0.005],[4.25,-0.112],[4.33,-0.061],[4.41,-0.093],[4.52,0.227],[4.65,-0.093],[4.84,0.152],[4.94,0.039],[5.04,0.033],[5.12,0.008],[5.18,-0.049],[5.26,-0.018],[5.36,-0.106],[5.46,-0.043],[5.56,-0.118],[5.67,-0.043],[5.76,-0.02],[5.95,-0.219],[6.13,0.001],[6.25,-0.043],[6.39,0.064],[6.47,0.055],[6.53,0.055],[6.65,0.014],[6.83,-0.156],[6.94,-0.055],[7.03,-0.103],[7.10,-0.058],[7.18,-0.087],[7.31,0.152],[7.39,0.089],[7.47,0.12],[7.55,0.042],[7.65,0.051],[7.71,0.042],[7.83,0.152],[7.92,0.083],[8.01,0.108],[8.17,0.077],[8.27,0.083],[8.45,0.145],[8.51,0.133],[8.65,0.143],[8.79,-0.018],[8.90,0.01],[9.02,-0.033],[9.12,-0.005],[9.23,-0.074],[9.35,0.077],[9.43,0.057],[9.60,0.139],[9.75,-0.106],[9.84,0.014],[9.94,-0.087],[10.10,0.064],[10.24,-0.096],[10.33,0.095],[10.41,0.02],[10.48,0.083],[10.56,-0.106]];
var run201l_tail_barharbor = [[10.56,-0.043],[10.68,0.143],[10.78,-0.114],[10.89,0.101],[10.98,-0.068],[11.05,-0.03],[11.13,-0.124],[11.24,-0.018],[11.43,-0.175],[11.63,0.064],[11.75,-0.266],[11.87,0.202],[11.96,-0.124],[12.05,0.026],[12.17,-0.061],[12.27,-0.065],[12.35,-0.024],[12.42,-0.043],[12.51,0.133],[12.61,-0.137],[12.70,0.195],[12.81,-0.354],[12.90,0.008],[12.97,-0.018]];

var obs_cutler = [[1.00,-0.153],[1.06,-0.052],[1.12,-0.147],[1.22,-0.62],[1.32,-0.43],[1.40,-0.412],[1.48,-0.48],[1.59,-0.324],[1.67,-0.40],[1.76,-0.38],[1.88,-0.574],[2.00,-0.207],[2.09,-0.47],[2.18,-0.418],[2.25,-0.488],[2.33,-0.418],[2.43,-0.56],[2.54,-0.35],[2.62,-0.44],[2.73,-0.538],[2.85,-0.324],[2.91,-0.39],[3.04,0.056],[3.10,0.011],[3.18,0.024],[3.29,-0.387],[3.39,-0.109],[3.51,-0.405],[3.67,-0.24],[3.77,-0.412],[3.85,-0.317],[3.96,-0.40],[4.05,-0.31],[4.17,-0.317],[4.28,-0.355],[4.41,-0.437],[4.52,-0.185],[4.68,-0.463],[4.87,-0.298],[4.96,-0.343],[5.08,-0.283],[5.18,-0.355],[5.31,-0.36],[5.36,-0.377],[5.44,-0.33],[5.55,-0.412],[5.70,-0.33],[5.82,-0.283],[5.88,-0.343],[6.00,-0.273],[6.12,-0.119],[6.24,-0.324],[6.34,-0.321],[6.45,-0.298],[6.56,-0.343],[6.66,-0.273],[6.78,-0.308],[6.86,-0.31],[6.94,-0.27],[7.06,-0.362],[7.12,-0.35],[7.18,-0.412],[7.29,-0.324],[7.40,-0.435],[7.49,-0.286],[7.59,-0.343],[7.67,-0.37],[7.72,-0.418],[7.84,-0.298],[7.95,-0.35],[8.07,-0.317],[8.15,-0.33],[8.27,-0.263],[8.37,-0.368],[8.47,-0.298],[8.55,-0.31],[8.67,-0.235],[8.79,-0.35],[8.91,-0.286],[9.03,-0.38],[9.15,-0.343],[9.27,-0.305],[9.44,-0.355],[9.62,-0.19],[9.74,-0.384],[9.86,-0.292],[9.94,-0.336],[10.14,-0.273],[10.24,-0.343],[10.36,-0.134],[10.52,-0.343],[10.60,-0.34],[10.70,-0.273],[10.77,-0.368],[10.89,-0.248],[10.96,-0.305],[11.04,-0.248],[11.14,-0.45],[11.24,-0.305],[11.43,-0.532],[11.64,-0.266],[11.75,-0.46],[11.89,0.043],[11.98,-0.204],[12.06,-0.197],[12.17,-0.286],[12.27,-0.405],[12.35,-0.36],[12.44,-0.45],[12.54,-0.248],[12.62,-0.38],[12.71,-0.185],[12.81,-0.456],[12.89,-0.34],[12.97,-0.216]];
var run202a_cutler = [[1.00,-0.463],[1.10,-0.229],[1.22,-0.625],[1.32,-0.38],[1.39,-0.283],[1.48,-0.377],[1.56,-0.30],[1.64,-0.41],[1.75,-0.26],[1.84,-0.45],[1.95,-0.229],[2.04,-0.405],[2.15,-0.305],[2.24,-0.405],[2.33,-0.35],[2.42,-0.50],[2.51,-0.397],[2.59,-0.48],[2.67,-0.437],[2.75,-0.54],[2.85,-0.39],[2.91,-0.437],[3.01,-0.233],[3.10,-0.456],[3.20,-0.102],[3.29,-0.444],[3.39,-0.16],[3.51,-0.57],[3.65,-0.283],[3.75,-0.45],[3.84,-0.26],[3.94,-0.39],[4.04,-0.305],[4.13,-0.36],[4.17,-0.36],[4.26,-0.478],[4.33,-0.425],[4.41,-0.47],[4.53,-0.166],[4.65,-0.456],[4.84,-0.233],[4.95,-0.336],[5.06,-0.336],[5.16,-0.40],[5.26,-0.387],[5.36,-0.482],[5.45,-0.43],[5.55,-0.498],[5.66,-0.412],[5.72,-0.405],[5.78,-0.39],[5.96,-0.60],[6.16,-0.38],[6.25,-0.415],[6.41,-0.317],[6.46,-0.33],[6.54,-0.335],[6.66,-0.387],[6.84,-0.54],[6.94,-0.447],[7.02,-0.49],[7.10,-0.44],[7.17,-0.475],[7.31,-0.24],[7.39,-0.313],[7.47,-0.273],[7.56,-0.336],[7.64,-0.335],[7.72,-0.36],[7.83,-0.25],[7.92,-0.305],[8.01,-0.286],[8.13,-0.313],[8.23,-0.292],[8.35,-0.324],[8.49,-0.254],[8.55,-0.28],[8.65,-0.24],[8.79,-0.405],[8.90,-0.374],[8.99,-0.425],[9.13,-0.384],[9.25,-0.47],[9.35,-0.324],[9.45,-0.336],[9.55,-0.24],[9.63,-0.266],[9.77,-0.494],[9.85,-0.368],[9.95,-0.475],[10.10,-0.324],[10.24,-0.475],[10.33,-0.296],[10.41,-0.355],[10.49,-0.283],[10.56,-0.447]];
var run201l_tail_cutler = [[10.56,-0.393],[10.68,-0.24],[10.78,-0.48],[10.88,-0.254],[10.98,-0.437],[11.05,-0.418],[11.14,-0.488],[11.24,-0.402],[11.44,-0.538],[11.64,-0.305],[11.75,-0.61],[11.86,-0.204],[11.96,-0.488],[12.06,-0.35],[12.17,-0.427],[12.24,-0.43],[12.35,-0.41],[12.40,-0.437],[12.52,-0.229],[12.60,-0.488],[12.70,-0.182],[12.81,-0.722],[12.91,-0.387],[12.97,-0.33]];

var obs_eastport = [[1.00,-0.218],[1.07,-0.25],[1.22,-0.656],[1.32,-0.416],[1.36,-0.387],[1.47,-0.433],[1.61,-0.272],[1.69,-0.35],[1.77,-0.31],[1.87,-0.506],[1.98,-0.255],[2.08,-0.40],[2.16,-0.36],[2.24,-0.46],[2.33,-0.38],[2.43,-0.527],[2.52,-0.31],[2.61,-0.37],[2.74,-0.498],[2.85,-0.291],[2.90,-0.318],[3.04,0.085],[3.10,0.004],[3.17,0.052],[3.28,-0.338],[3.38,-0.086],[3.50,-0.362],[3.66,-0.212],[3.76,-0.368],[3.85,-0.242],[3.96,-0.336],[4.05,-0.254],[4.16,-0.30],[4.25,-0.356],[4.33,-0.326],[4.44,-0.40],[4.53,-0.11],[4.68,-0.404],[4.88,-0.242],[4.96,-0.296],[5.06,-0.248],[5.18,-0.362],[5.28,-0.30],[5.36,-0.35],[5.44,-0.284],[5.56,-0.36],[5.72,-0.278],[5.79,-0.248],[5.91,-0.308],[6.00,-0.26],[6.13,-0.108],[6.25,-0.326],[6.35,-0.276],[6.46,-0.212],[6.54,-0.24],[6.62,-0.24],[6.73,-0.284],[6.84,-0.28],[6.94,-0.248],[7.05,-0.344],[7.11,-0.335],[7.19,-0.374],[7.31,-0.284],[7.39,-0.368],[7.49,-0.23],[7.58,-0.332],[7.74,-0.397],[7.85,-0.275],[7.98,-0.338],[8.08,-0.30],[8.17,-0.292],[8.27,-0.227],[8.39,-0.317],[8.52,-0.258],[8.60,-0.29],[8.70,-0.212],[8.83,-0.347],[8.92,-0.248],[9.04,-0.385],[9.13,-0.349],[9.20,-0.343],[9.30,-0.296],[9.41,-0.325],[9.49,-0.347],[9.56,-0.31],[9.63,-0.20],[9.77,-0.376],[9.89,-0.267],[9.97,-0.317],[10.07,-0.28],[10.13,-0.258],[10.26,-0.347],[10.38,-0.097],[10.52,-0.341],[10.59,-0.336],[10.71,-0.248],[10.80,-0.359],[10.89,-0.229],[10.96,-0.271],[11.04,-0.222],[11.14,-0.417],[11.24,-0.263],[11.45,-0.51],[11.56,-0.258],[11.70,-0.221],[11.79,-0.305],[11.90,0.082],[12.01,-0.195],[12.09,-0.141],[12.16,-0.237],[12.24,-0.248],[12.37,-0.326],[12.46,-0.397],[12.53,-0.233],[12.62,-0.317],[12.72,-0.12],[12.84,-0.401],[12.95,-0.153],[12.99,-0.191]];
var run202a_eastport = [[1.00,-0.344],[1.10,-0.088],[1.23,-0.512],[1.32,-0.29],[1.39,-0.182],[1.49,-0.293],[1.56,-0.242],[1.65,-0.332],[1.75,-0.182],[1.84,-0.362],[1.96,-0.125],[2.05,-0.26],[2.15,-0.173],[2.24,-0.32],[2.33,-0.272],[2.42,-0.416],[2.51,-0.308],[2.60,-0.392],[2.67,-0.34],[2.76,-0.446],[2.85,-0.296],[2.92,-0.332],[3.01,-0.11],[3.10,-0.344],[3.20,-0.024],[3.30,-0.362],[3.39,-0.104],[3.51,-0.456],[3.66,-0.176],[3.76,-0.362],[3.84,-0.152],[3.94,-0.248],[4.03,-0.176],[4.13,-0.26],[4.20,-0.30],[4.26,-0.416],[4.34,-0.362],[4.41,-0.386],[4.53,-0.044],[4.66,-0.356],[4.86,-0.104],[4.96,-0.212],[5.04,-0.224],[5.17,-0.35],[5.26,-0.314],[5.36,-0.377],[5.44,-0.314],[5.55,-0.368],[5.66,-0.302],[5.72,-0.30],[5.79,-0.26],[5.96,-0.48],[6.15,-0.318],[6.25,-0.344],[6.43,-0.184],[6.50,-0.194],[6.57,-0.206],[6.69,-0.28],[6.85,-0.428],[6.94,-0.35],[7.03,-0.41],[7.11,-0.362],[7.19,-0.386],[7.33,-0.122],[7.39,-0.168],[7.47,-0.128],[7.55,-0.21],[7.69,-0.272],[7.83,-0.146],[7.93,-0.194],[8.03,-0.192],[8.17,-0.228],[8.29,-0.164],[8.37,-0.188],[8.49,-0.116],[8.59,-0.19],[8.68,-0.168],[8.80,-0.308],[8.90,-0.266],[9.02,-0.332],[9.14,-0.296],[9.23,-0.336],[9.38,-0.17],[9.44,-0.206],[9.54,-0.164],[9.62,-0.21],[9.76,-0.41],[9.86,-0.266],[9.96,-0.377],[10.12,-0.26],[10.24,-0.326],[10.33,-0.152],[10.42,-0.23],[10.49,-0.212],[10.57,-0.33]];
var run201l_tail_eastport = [[10.59,-0.326],[10.71,-0.17],[10.80,-0.376],[10.91,-0.181],[11.01,-0.359],[11.08,-0.313],[11.15,-0.368],[11.26,-0.263],[11.47,-0.485],[11.66,-0.246],[11.77,-0.494],[11.88,-0.099],[11.98,-0.393],[12.08,-0.248],[12.16,-0.313],[12.22,-0.309],[12.29,-0.334],[12.37,-0.317],[12.42,-0.332],[12.53,-0.179],[12.62,-0.406],[12.72,-0.08],[12.84,-0.607],[12.96,-0.208],[12.99,-0.22]];

// RUN201l runs on top of RUN202a until RUN202a stops, then carries on alone
function run201l(run202a, tail) {
  return run202a.filter(function (d) { return d[0] < 10.5; }).concat(tail);
}

var panels = [
  { obs: obs_nantucket, r201: run201l(run202a_nantucket, run201l_tail_nantucket), r202: run202a_nantucket },
  { obs: obs_woodshole, r201: run201l(run202a_woodshole, run201l_tail_woodshole), r202: run202a_woodshole },
  { obs: obs_chatham,   r201: run201l(run202a_chatham, run201l_tail_chatham),     r202: run202a_chatham },
  { obs: obs_boston,    r201: run201l(run202a_boston, run201l_tail_boston),       r202: run202a_boston },
  { obs: obs_fortpoint, r201: run201l(run202a_fortpoint, run201l_tail_fortpoint), r202: run202a_fortpoint },
  { obs: obs_wells,     r201: run201l(run202a_wells, run201l_tail_wells),         r202: run202a_wells },
  { obs: obs_portland,  r201: run201l(run202a_portland, run201l_tail_portland),   r202: run202a_portland },
  { obs: obs_barharbor, r201: run201l(run202a_barharbor, run201l_tail_barharbor), r202: run202a_barharbor },
  { obs: obs_cutler,    r201: run201l(run202a_cutler, run201l_tail_cutler),       r202: run202a_cutler },
  { obs: obs_eastport,  r201: run201l(run202a_eastport, run201l_tail_eastport),   r202: run202a_eastport }
];

// ---- layout ----
var svg = d3.select("#chart");
var colLeft = [78, 1336];
var colRight = [1277, 2535];
var rowTop = 37.5, rowStep = 387, plotH = 326;
var tickFont = 13.9;
var titleFont = 17.9;

var styles = {
  obs:  { color: "#ff0000", width: 2.7, dash: "17.8,4.4,2.8,4.4" },
  r201: { color: "#008000", width: 1.1, dash: "4.1,1.8" },
  r202: { color: "#0000ff", width: 1.1, dash: null }
};

panels.forEach(function (p, i) {
  var col = i % 2, row = Math.floor(i / 2);
  var x0 = colLeft[col], x1 = colRight[col];
  var y0 = rowTop + row * rowStep, y1 = y0 + plotH;

  var all = p.obs.concat(p.r201, p.r202);
  var ext = d3.extent(all, function (d) { return d[1]; });
  var pad = (ext[1] - ext[0]) * 0.05;

  var x = d3.scaleLinear().domain([1, 12.99]).range([x0, x1]);
  var y = d3.scaleLinear().domain([ext[0] - pad, ext[1] + pad]).range([y1, y0]);

  var step = yTickSteps[i];
  var yTicks = d3.range(Math.ceil(y.domain()[0] / step - 1e-6), Math.floor(y.domain()[1] / step + 1e-6) + 1)
    .map(function (k) { return +(k * step).toFixed(2); });

  var g = svg.append("g");

  var clipId = "clip" + i;
  g.append("clipPath").attr("id", clipId)
    .append("rect").attr("x", x0).attr("y", y0).attr("width", x1 - x0).attr("height", plotH);

  var line = d3.line()
    .x(function (d) { return x(d[0]); })
    .y(function (d) { return y(d[1]); })
    .curve(d3.curveMonotoneX);

  ["obs", "r201", "r202"].forEach(function (key) {
    var s = styles[key];
    g.append("path")
      .attr("clip-path", "url(#" + clipId + ")")
      .attr("d", line(p[key]))
      .attr("fill", "none")
      .attr("stroke", s.color)
      .attr("stroke-width", s.width)
      .attr("stroke-dasharray", s.dash)
      .attr("stroke-linejoin", "round");
  });

  var xAxis = d3.axisBottom(x).tickValues(xTicks).tickFormat(d3.format("d"))
    .tickSize(4.9).tickPadding(4.9).tickSizeOuter(0);
  var yAxis = d3.axisLeft(y).tickValues(yTicks).tickFormat(d3.format(".1f"))
    .tickSize(4.9).tickPadding(4.9).tickSizeOuter(0);

  var gx = g.append("g").attr("transform", "translate(0," + y1 + ")").call(xAxis);
  var gy = g.append("g").attr("transform", "translate(" + x0 + ",0)").call(yAxis);
  [gx, gy].forEach(function (a) {
    a.select(".domain").remove();
    a.selectAll("line").attr("stroke-width", 1.1);
    a.selectAll("text").style("font-size", tickFont + "px").attr("fill", "#000");
  });

  g.append("rect")
    .attr("x", x0).attr("y", y0).attr("width", x1 - x0).attr("height", plotH)
    .attr("fill", "none").attr("stroke", "#000").attr("stroke-width", 1.1);

  g.append("text")
    .attr("x", (x0 + x1) / 2).attr("y", y0 - 8)
    .attr("text-anchor", "middle")
    .style("font-size", titleFont + "px")
    .text(stations[i]);

  if (col === 0) {
    g.append("text")
      .attr("transform", "translate(25.5," + (y0 + plotH / 2) + ") rotate(-90)")
      .attr("text-anchor", "middle")
      .style("font-size", tickFont + "px")
      .text("Elevation (m)");
  }

  if (i === 0) {
    var lg = g.append("g");
    lg.append("rect")
      .attr("x", 1156).attr("y", 44.5).attr("width", 114).attr("height", 67)
      .attr("rx", 2.8)
      .attr("fill", "#fff").attr("fill-opacity", 0.8)
      .attr("stroke", "#cccccc").attr("stroke-width", 1.1);
    ["obs", "r201", "r202"].forEach(function (key, k) {
      var s = styles[key];
      var ly = 56.5 + k * 21.3;
      lg.append("line")
        .attr("x1", 1161).attr("x2", 1189).attr("y1", ly).attr("y2", ly)
        .attr("stroke", s.color).attr("stroke-width", s.width)
        .attr("stroke-dasharray", s.dash);
      lg.append("text")
        .attr("x", 1200).attr("y", ly).attr("dy", "0.36em")
        .style("font-size", tickFont + "px")
        .text(seriesNames[k]);
    });
  }
});
</script>
</body>
</html>
